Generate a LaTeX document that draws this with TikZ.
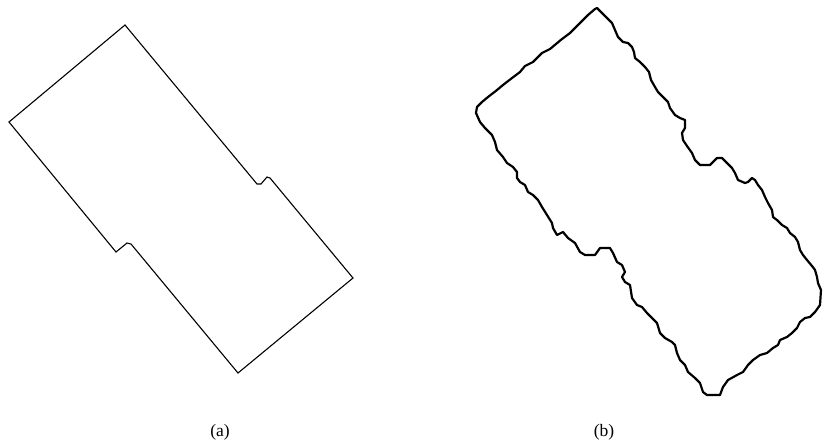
\documentclass[tikz,border=0pt]{standalone}
\usepackage{fontspec}
\setmainfont{Liberation Serif}
\begin{document}
\begin{tikzpicture}[x=1pt,y=-1pt,
  outlineA/.style={draw=black,line width=1.1pt,line join=miter},
  outlineB/.style={draw=black,line width=2.2pt,line join=round},
  caption/.style={font=\fontsize{17.5}{20}\selectfont,inner sep=0pt}]
\useasboundingbox (0,0) rectangle (823,445);
% (a) polygon
\draw[outlineA] (125,25) -- (257,184) -- (261,184) -- (267,177) -- (270,178)
  -- (353,278) -- (238,373) -- (131,244) -- (127,243) -- (116,252) -- (9,122) -- cycle;
% (b) wiggly outline
\draw[outlineB] (597,8) -- (602,13) -- (607,18) -- (612,23) -- (615,30) -- (618,37) -- (623,42) -- (628,43) -- (632,47) -- (634,52) -- (635,58) -- (640,62) -- (645,67) -- (649,72) -- (651,80) -- (655,87) -- (658,92) -- (663,97) -- (668,102) -- (670,108) -- (675,115) -- (680,118) -- (685,120) -- (685,128) -- (682,133) -- (683,140) -- (687,146) -- (692,153) -- (695,160) -- (700,165) -- (710,165) -- (713,162) -- (717,158) -- (722,158) -- (727,163) -- (732,168) -- (735,173) -- (738,180) -- (745,183) -- (748,182) -- (752,178) -- (755,180) -- (758,185) -- (762,190) -- (765,197) -- (768,203) -- (772,210) -- (773,217) -- (777,220) -- (782,225) -- (787,228) -- (790,233) -- (795,237) -- (798,242) -- (800,250) -- (803,255) -- (807,260) -- (812,266) -- (815,270) -- (817,277) -- (818,283) -- (821,290)
 -- (820,305) -- (815,312) -- (810,317) -- (805,318) -- (800,322) -- (797,328) -- (792,333) -- (787,337) -- (780,340) -- (778,345) -- (773,348) -- (767,353) -- (760,355) -- (753,360) -- (748,365) -- (743,372) -- (737,375) -- (728,380) -- (723,387) -- (720,395) -- (707,395) -- (703,392) -- (700,383) -- (695,378) -- (688,372) -- (685,365) -- (680,360) -- (677,353) -- (675,345) -- (672,342) -- (665,338) -- (660,333) -- (657,323) -- (652,318) -- (647,313) -- (642,307) -- (637,305) -- (632,298) -- (630,285) -- (625,282) -- (622,277) -- (625,272) -- (622,265) -- (617,262) -- (613,253) -- (610,248) -- (600,248) -- (595,255) -- (585,255) -- (580,252) -- (575,243) -- (568,238) -- (563,232) -- (557,235) -- (553,228) -- (552,223) -- (547,215) -- (542,207) -- (538,200) -- (533,195) -- (528,192) -- (525,185) -- (520,182) -- (517,178) -- (517,172) -- (513,167) -- (507,163) -- (503,157) -- (497,150) -- (495,142) -- (492,135) -- (485,128) -- (480,122) -- (476,113) -- (477,107) -- (482,102) -- (488,97) -- (497,90) -- (503,85) -- (512,78) -- (520,72) -- (525,66) -- (533,62) -- (542,53) -- (550,49) -- (562,39) -- (570,33) -- (580,23) -- (588,15) -- (595,9) -- cycle;
% captions
\node[caption] (capA) at (220,432) {(a)};
\node[caption] (capB) at (604,432) {(b)};
\end{tikzpicture}
\end{document}
